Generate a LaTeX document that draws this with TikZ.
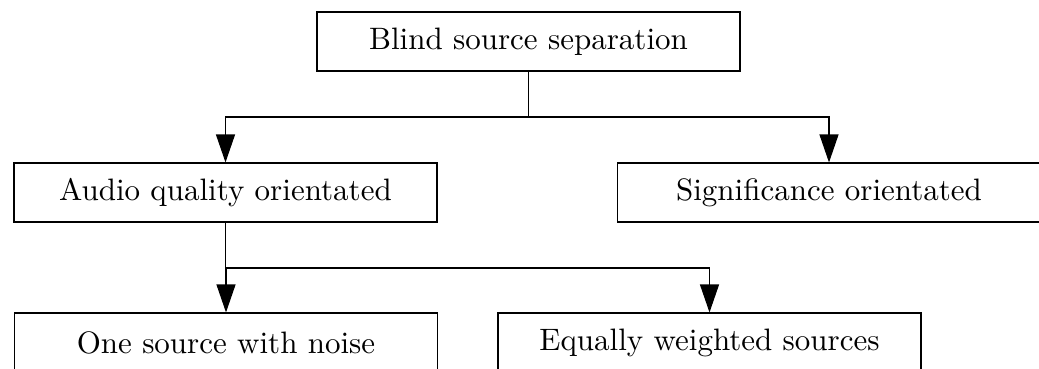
\documentclass[tikz,border=0pt]{standalone}
\usetikzlibrary{arrows.meta}
\newcommand{\bigtext}[1]{\scalebox{3.1}{#1}}
\begin{document}
\begin{tikzpicture}[x=1pt,y=-1pt,
  box/.style={draw, line width=1.1pt, minimum width=423pt, minimum height=59pt,
    inner sep=0pt},
  link/.style={line width=1.1pt},
  arr/.style={link, -{Triangle[length=28pt,width=19pt]}}]
  \useasboundingbox (0,0) rectangle (1039,369);
  \clip (0,0) rectangle (1039,369);
  % category boxes
  \node[box] (top)   at (528.5,41.5)  {\bigtext{Blind source separation}};
  \node[box] (audio) at (225.5,192.5) {\bigtext{Audio quality orientated}};
  \node[box] (sig)   at (829,192.5)   {\bigtext{Significance orientated}};
  \node[box] (one)   at (226,342.5)   {\bigtext{One source with noise}};
  \node[box] (equal) at (709.5,342.5) {\bigtext{Equally weighted sources}};
  % branching points
  \coordinate (j1) at (528.5,117);
  \coordinate (j2) at (225.5,268);
  % tree connectors
  \draw[link] (top.south) -- (j1);
  \draw[arr] (j1) -| (audio.north);
  \draw[arr] (j1) -| (sig.north);
  \draw[link] (audio.south) -- (j2);
  \draw[arr] (j2) -| (one.north);
  \draw[arr] (j2) -| (equal.north);
\end{tikzpicture}
\end{document}
